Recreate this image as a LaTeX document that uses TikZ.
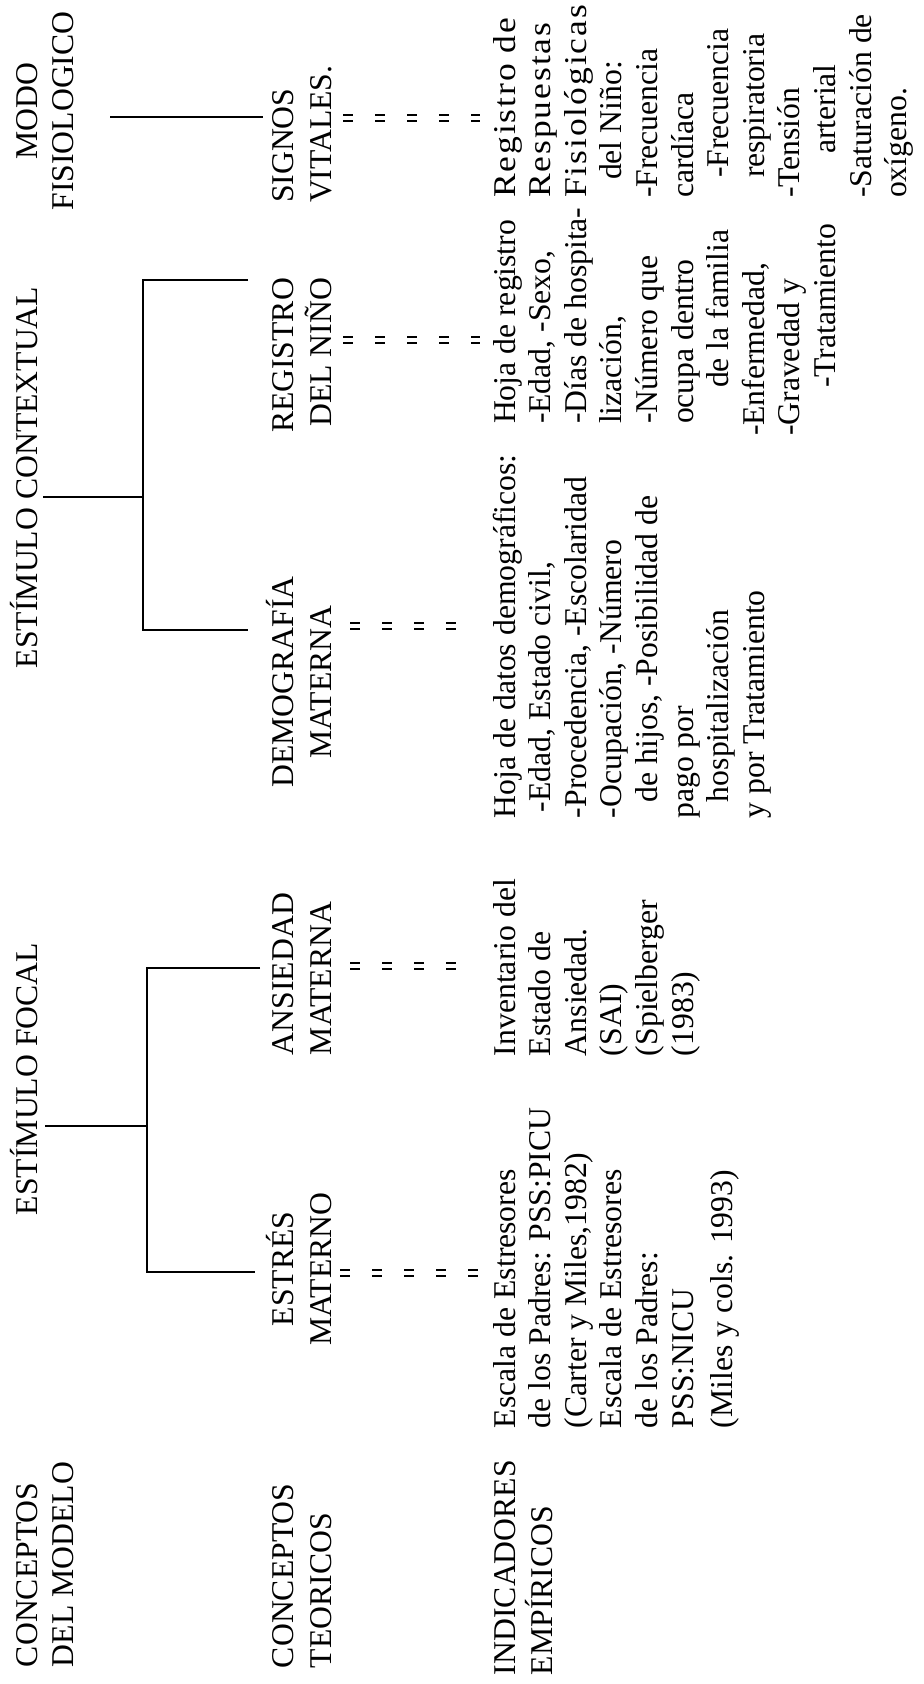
\documentclass[tikz,border=0pt]{standalone}
\usepackage{graphicx}
\usepackage{fontspec}
\setmainfont{Liberation Serif}
\newcommand\firststrut{\rule{0pt}{15pt}}
\newcommand\wideline[1]{\scalebox{1.12}[1]{\addfontfeatures{LetterSpace=5.5}#1}}
\begin{document}
\begin{tikzpicture}[x=0.5pt,y=-0.5pt,
  base/.style={rotate=90, inner sep=0pt, outer sep=0pt},
  colA/.style={base, font=\fontsize{15.85}{18}\selectfont},
  colB/.style={base, font=\fontsize{15.85}{19.25}\selectfont},
  colC/.style={base, font=\fontsize{15.85}{18.5}\selectfont},
  body/.style={base, font=\fontsize{15.85}{17.8}\selectfont, align=left, anchor=north west},
  tree/.style={line width=1.4pt},
  dd/.style={double, double distance=2.2pt, line width=1.1pt, dash pattern=on 5pt off 11pt}]
\useasboundingbox (0,0) rectangle (924,1684);

% ---- column 1: conceptos del modelo
\node[colA, anchor=north, align=center] (modo) at (7,111) {\firststrut MODO\\FISIOLOGICO};
\node[colA, anchor=north west] (contextual) at (7,668) {\firststrut ESTÍMULO CONTEXTUAL};
\node[colA, anchor=north west] (focal) at (7,1215) {\firststrut ESTÍMULO FOCAL};
\node[colA, anchor=north west, align=left] (cmodelo) at (7,1667) {\firststrut CONCEPTOS\\DEL MODELO};

% ---- column 2: conceptos teoricos
\node[colB, anchor=north west, align=left] (signos) at (263,203) {\firststrut SIGNOS\\VITALES.};
\node[colB, anchor=north east, align=right] (registro) at (263,278) {\firststrut REGISTRO\\DEL NIÑO};
\node[colB, anchor=north, align=center] (demog) at (263,682) {\firststrut DEMOGRAFÍA\\MATERNA};
\node[colB, anchor=north west, align=left] (ansiedad) at (263,1055) {\firststrut ANSIEDAD\\MATERNA};
\node[colB, anchor=north, align=center] (estres) at (263,1269) {\firststrut ESTRÉS\\MATERNO};
\node[colB, anchor=north west, align=left] (cteoricos) at (263,1668) {\firststrut CONCEPTOS\\TEORICOS};

% ---- column 3: indicadores empiricos
\node[colC, anchor=north west, align=left] (indic) at (485,1675) {\firststrut INDICADORES\\EMPÍRICOS};

\node[body] (escala) at (485,1428) {\firststrut Escala de Estresores\\
de los Padres: PSS:PICU\\
(Carter y Miles,1982)\\
Escala de Estresores\\
de los Padres:\\
PSS:NICU\\[2pt]
(Miles y cols. 1993)};

\node[body] (inventario) at (485,1056) {\firststrut Inventario del\\
Estado de\\
Ansiedad.\\
(SAI)\\
(Spielberger\\
(1983)};

\node[body] (hojadatos) at (485,818) {\firststrut Hoja de datos demográficos:\\
\hspace*{3pt}-Edad, Estado civil,\\
-Procedencia, -Escolaridad\\
-Ocupación, -Número\\
\hspace*{8pt}de hijos, -Posibilidad de\\
pago por\\
\hspace*{8pt}hospitalización\\
y por Tratamiento};

\node[body] (hojareg) at (485,436) {\firststrut \hspace*{6pt}Hoja de registro\\
\hspace*{6pt}-Edad, -Sexo,\\
\hspace*{6pt}-Días de hospita-\\
\hspace*{6pt}lización,\\
\hspace*{6pt}-Número que\\
\hspace*{6pt}ocupa dentro\\
\hspace*{24pt}de la familia\\
-Enfermedad,\\
-Gravedad y\\
\hspace*{24pt}-Tratamiento};

\node[body] (respuestas) at (485,198) {\firststrut \wideline{Registro de}\\
\wideline{Respuestas}\\
\wideline{Fisiológicas}\\
\hspace*{9pt}del Niño:\\
-Frecuencia\\
cardíaca\\
\hspace*{10pt}-Frecuencia\\
\hspace*{10pt}respiratoria\\
-Tensión\\
\hspace*{22pt}arterial\\
-Saturación de\\
oxígeno.};

% ---- tree connectors
\coordinate (mfA) at (110,117);
\coordinate (mfB) at (263,117);
\draw[tree] (mfA) -- (mfB);

\coordinate (ctS) at (43,497);
\coordinate (ctM) at (143,497);
\coordinate (ctT) at (143,280);
\coordinate (ctB) at (143,630);
\coordinate (ctTe) at (248,280);
\coordinate (ctBe) at (248,630);
\draw[tree] (ctS) -- (ctM);
\draw[tree] (ctTe) -- (ctT) -- (ctB) -- (ctBe);

\coordinate (fcS) at (45,1126);
\coordinate (fcM) at (147,1126);
\coordinate (fcT) at (147,968);
\coordinate (fcB) at (147,1272);
\coordinate (fcTe) at (260,968);
\coordinate (fcBe) at (255,1272);
\draw[tree] (fcS) -- (fcM);
\draw[tree] (fcTe) -- (fcT) -- (fcB) -- (fcBe);

% ---- dashed double connectors
\coordinate (d1a) at (343,118);  \coordinate (d1b) at (480,118);
\coordinate (d2a) at (343,340);  \coordinate (d2b) at (480,340);
\coordinate (d3a) at (350,626);  \coordinate (d3b) at (476,626);
\coordinate (d4a) at (350,966);  \coordinate (d4b) at (478,966);
\coordinate (d5a) at (340,1273); \coordinate (d5b) at (480,1273);
\draw[dd] (d1a) -- (d1b);
\draw[dd] (d2a) -- (d2b);
\draw[dd] (d3a) -- (d3b);
\draw[dd] (d4a) -- (d4b);
\draw[dd] (d5a) -- (d5b);
\end{tikzpicture}
\end{document}
